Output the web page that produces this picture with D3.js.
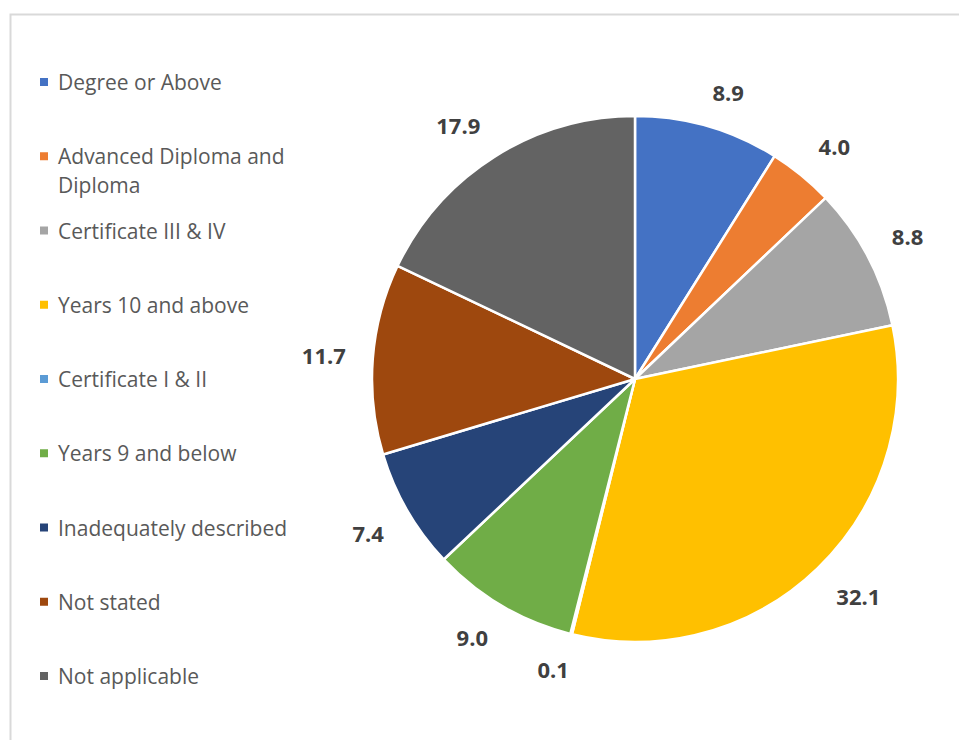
<!DOCTYPE html>
<html>
<head>
<meta charset="utf-8">
<script src="https://cdn.jsdelivr.net/npm/d3@7/dist/d3.min.js"></script>
<style>
  html, body { margin: 0; padding: 0; background: #ffffff; }
  svg { display: block; }
</style>
</head>
<body>
<svg id="chart" width="959" height="740"></svg>
<script>
// Education level shares (%)
const categories = [
  "Degree or Above",
  "Advanced Diploma and Diploma",
  "Certificate III & IV",
  "Years 10 and above",
  "Certificate I & II",
  "Years 9 and below",
  "Inadequately described",
  "Not stated",
  "Not applicable"
];
const values = [8.9, 4.0, 8.8, 32.1, 0.1, 9.0, 7.4, 11.7, 17.9];
const colors = ["#4472C4", "#ED7D31", "#A5A5A5", "#FFC000", "#5B9BD5",
                "#70AD47", "#264478", "#9E480E", "#636363"];
// Legend entries wrapped over lines
const legendLines = [
  ["Degree or Above"],
  ["Advanced Diploma and", "Diploma"],
  ["Certificate III & IV"],
  ["Years 10 and above"],
  ["Certificate I & II"],
  ["Years 9 and below"],
  ["Inadequately described"],
  ["Not stated"],
  ["Not applicable"]
];

const svg = d3.select("#chart");
const W = 959, H = 740;

// chart area frame
svg.append("rect")
  .attr("x", 10.5).attr("y", 14.5)
  .attr("width", W + 20).attr("height", H + 20)
  .attr("fill", "#ffffff")
  .attr("stroke", "#d9d9d9")
  .attr("stroke-width", 2);

const cx = 635, cy = 379, r = 263;
const data = categories.map((c, i) => ({ name: c, value: values[i], color: colors[i] }));

const pie = d3.pie().sort(null).value(d => d.value);
const arcs = pie(data);
const arc = d3.arc().innerRadius(0).outerRadius(r);

const g = svg.append("g").attr("transform", `translate(${cx},${cy})`);

g.selectAll("path.slice")
  .data(arcs)
  .join("path")
  .attr("class", "slice")
  .attr("d", arc)
  .attr("fill", d => d.data.color)
  .attr("stroke", "#ffffff")
  .attr("stroke-width", 2.5)
  .attr("stroke-linejoin", "round");

// value labels at the outside end of each slice:
// the anchor sits on a ring just outside the pie and the text box
// is pushed outward by its half size along each axis
const fmt = d3.format(".1f");
const labelFont = "bold 22px 'Open Sans', sans-serif";
const ring = r + 27, halfH = 8.5;
const clamp = v => Math.max(-1, Math.min(1, v));
const labels = g.selectAll("text.val")
  .data(arcs)
  .join("text")
  .attr("class", "val")
  .attr("text-anchor", "middle")
  .attr("dominant-baseline", "central")
  .style("font", labelFont)
  .attr("fill", "#404040")
  .text(d => fmt(d.data.value));

labels.each(function(d) {
  const w = this.getComputedTextLength();
  const a = (d.startAngle + d.endAngle) / 2;
  const sx = Math.sin(a), sy = -Math.cos(a);
  const x = sx * ring + (w / 2) * clamp(3 * sx);
  const y = sy * ring + halfH * clamp(3 * sy);
  d3.select(this).attr("x", x).attr("y", y);
});

// legend
const legendY = d3.scalePoint()
  .domain(categories)
  .range([82, 676]);
const lineH = 29;
const legend = svg.append("g");
const items = legend.selectAll("g.item")
  .data(data)
  .join("g")
  .attr("class", "item")
  .attr("transform", d => `translate(40,${legendY(d.name)})`);

items.append("rect")
  .attr("x", 0).attr("y", -4)
  .attr("width", 8).attr("height", 8)
  .attr("fill", d => d.color);

items.each(function(d, i) {
  const t = d3.select(this).append("text")
    .attr("x", 18)
    .attr("fill", "#595959")
    .style("font", "21px 'Open Sans', sans-serif");
  legendLines[i].forEach((ln, k) => {
    t.append("tspan")
      .attr("x", 18)
      .attr("y", k * lineH)
      .attr("dominant-baseline", "central")
      .text(ln);
  });
});
</script>
</body>
</html>
